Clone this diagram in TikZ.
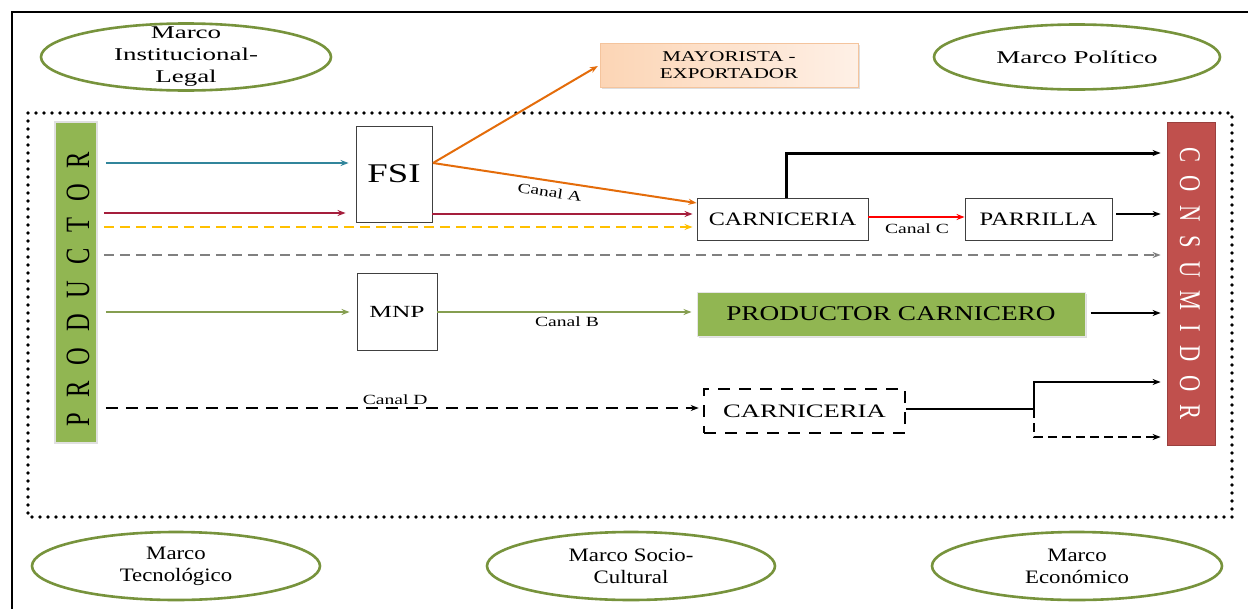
\documentclass[tikz,border=0pt]{standalone}
\usepackage{fontspec}
\setmainfont{Liberation Serif}
\usetikzlibrary{arrows.meta,shapes.geometric,shadows}
\definecolor{marcogreen}{RGB}{119,147,60}
\definecolor{prodgreen}{RGB}{145,182,82}
\definecolor{consred}{RGB}{192,80,77}
\definecolor{tealc}{RGB}{49,133,155}
\definecolor{crimson}{RGB}{165,30,60}
\definecolor{goldc}{RGB}{255,192,0}
\definecolor{orangec}{RGB}{228,108,10}
\definecolor{peachL}{RGB}{252,213,181}
\definecolor{peachR}{RGB}{254,240,230}
\newcommand\lspP{\hspace{22pt}}
\newcommand\lspC{\hspace{18pt}}
% size, leading and horizontal stretch of a label
\newcommand\fsz[3]{\fontsize{#1}{#2}\selectfont\addfontfeature{FakeStretch=#3}}
\tikzset{
  marco/.style={ellipse, draw=marcogreen, line width=2.6pt, inner sep=0pt},
  marcotext/.style={align=center, font=\fsz{18}{22}{1.5}},
  marcolow/.style={align=center, font=\fsz{19}{22}{1.2}},
  plainbox/.style={draw=black!75, line width=0.9pt, fill=white, inner sep=0pt},
  arr/.style={line width=1.6pt, -{Stealth[length=8pt,width=6pt]}},
  blk/.style={arr, black},
  canal/.style={font=\fsz{14}{16}{1.4}},
}
\begin{document}
\begin{tikzpicture}[x=1pt,y=-1pt]
\useasboundingbox (0,0) rectangle (1248,608);
\fill[white] (0,0) rectangle (1248,608);
% outer frame
\draw[line width=2.6pt] (12,610) -- (12,12) -- (1250,12);
% dotted boundary of the chain
\draw[line width=3.6pt, line cap=round, dash pattern=on 0pt off 8pt] (28,113) rectangle (1232,517);

% framework ellipses
\node[marco, minimum width=290pt, minimum height=67pt] (mil) at (186,57) {};
\node[marcotext] (milt) at (mil.center) {Marco\\Institucional-\\Legal};
\node[marco, minimum width=286pt, minimum height=65pt] (mpo) at (1077,57) {};
\node[marcotext] (mpot) at (mpo.center) {Marco Político};
\node[marco, minimum width=288pt, minimum height=68pt] (mte) at (176,566) {};
\node[marcolow] (mtet) at (mte.center) {Marco\\Tecnológico};
\node[marco, minimum width=288pt, minimum height=68pt] (msc) at (631,566) {};
\node[marcolow] (msct) at (msc.center) {Marco Socio-\\Cultural};
\node[marco, minimum width=290pt, minimum height=68pt] (mec) at (1077,566) {};
\node[marcolow] (mect) at (mec.center) {Marco\\Económico};

% end points of the chain
\node[fill=prodgreen, draw=black!12, line width=1.5pt, minimum width=42pt, minimum height=321pt, inner sep=0pt] (prod) at (76,282.5) {};
\node[rotate=90, font=\fontsize{34}{34}\selectfont] (prodt) at ([xshift=2pt,yshift=-7pt]prod.center)
  {\scalebox{0.72}[1]{P\lspP R\lspP O\lspP D\lspP U\lspP C\lspP T\lspP O\lspP R}};
\node[fill=consred, draw=consred!80!black, line width=0.8pt, minimum width=48pt, minimum height=323pt, inner sep=0pt] (cons) at (1191,283.5) {};
\node[rotate=-90, text=white, font=\fontsize{30}{30}\selectfont] (const) at ([xshift=-1pt]cons.center)
  {\scalebox{0.75}[1]{C\lspC O\lspC N\lspC S\lspC U\lspC M\lspC I\lspC D\lspC O\lspC R}};

% intermediaries
\node[draw=orangec!40, line width=0.8pt, left color=peachL, right color=peachR, minimum width=258pt, minimum height=44pt, inner sep=0pt, align=center, font=\fsz{15}{17}{1.4}, drop shadow={shadow xshift=2pt, shadow yshift=-2pt, fill=black!25}] (may) at (729,65) {MAYORISTA -\\EXPORTADOR};
\node[plainbox, minimum width=76pt, minimum height=96pt, font=\fsz{27}{27}{1.36}] (fsi) at (394,174) {FSI};
\node[plainbox, minimum width=80pt, minimum height=77pt, font=\fsz{17}{19}{1.5}] (mnp) at (397,311.5) {MNP};
\node[plainbox, minimum width=171pt, minimum height=42pt, font=\fsz{19}{21}{1.27}] (carn) at (782.5,219) {CARNICERIA};
\node[plainbox, minimum width=147pt, minimum height=42pt, font=\fsz{19}{21}{1.29}] (parr) at (1038.5,219) {PARRILLA};
\node[fill=prodgreen, draw=black!10, line width=1pt, minimum width=388pt, minimum height=44pt, inner sep=0pt, font=\fsz{21}{24}{1.3}, drop shadow={shadow xshift=2pt, shadow yshift=-2pt, fill=black!25}] (pcar) at (891,314) {PRODUCTOR CARNICERO};
\node[draw=black, line width=2.6pt, dash pattern=on 12pt off 9pt, fill=white, minimum width=201pt, minimum height=44pt, inner sep=0pt, font=\fsz{19}{21}{1.4}] (carnd) at (804.5,411) {CARNICERIA};

% routing points
\coordinate (split) at (1034,409);
\coordinate (fsiout) at (433,163);

% flows from the producer
\draw[arr, tealc, shorten <=8pt, shorten >=7pt] (prod.east |- 0,163) -- (fsi.west |- 0,163);
\draw[arr, crimson, shorten <=6pt, shorten >=10pt] (prod.east |- 0,213) -- (fsi.west |- 0,213);
\draw[arr, crimson, shorten >=4pt] (fsi.east |- 0,214) -- (carn.west |- 0,214);
\draw[arr, goldc, dash pattern=on 10pt off 6pt, shorten <=6pt, shorten >=4pt] (prod.east |- 0,227) -- (carn.west |- 0,227);
\draw[arr, black!50, dash pattern=on 10pt off 6pt, shorten <=6pt, shorten >=6pt] (prod.east |- 0,255) -- (cons.west |- 0,255);
\draw[arr, marcogreen!90!white, shorten <=8pt, shorten >=7pt] (prod.east |- 0,312) -- (mnp.west |- 0,312);
\draw[arr, marcogreen!90!white, shorten >=5pt] (mnp.east |- 0,312) -- (pcar.west |- 0,312)
  node[canal, black, pos=0.5, below=1pt] (cb) {Canal B};
\draw[arr, black, line width=2pt, dash pattern=on 12pt off 8pt, shorten <=8pt, shorten >=4pt] (prod.east |- 0,408) -- (carnd.west |- 0,408)
  node[canal, pos=0.5, above=-1pt, xshift=-5pt] (cd) {Canal D};

% Canal A from FSI
\draw[arr, orangec, line width=2pt, shorten >=2pt] (fsiout) -- (may.west);
\draw[arr, orangec, line width=2pt] (fsiout) -- (carn.west |- 0,203)
  node[canal, black, pos=0.45, below=2pt, sloped] (ca) {Canal A};

% to the consumer
\draw[blk, line width=3pt, shorten >=6pt] (carn.north -| 786,0) -- (786,153) -- (cons.west |- 0,153);
\draw[arr, red, line width=2.6pt] (carn.east |- 0,217) -- (parr.west |- 0,217);
\node[canal] (cc) at (917,229) {Canal C};
\draw[blk, line width=2pt, shorten <=4pt, shorten >=6pt] (parr.east |- 0,214) -- (cons.west |- 0,214);
\draw[blk, line width=2pt, shorten <=5pt, shorten >=6pt] (pcar.east |- 0,313) -- (cons.west |- 0,313);
\draw[line width=2.6pt] (carnd.east |- split) -- (split);
\draw[blk, line width=2.6pt, shorten >=6pt] (split) -- (1034,382) -- (cons.west |- 0,382);
\draw[blk, line width=2pt, dash pattern=on 9pt off 5pt, shorten >=6pt] (split) -- (1034,437) -- (cons.west |- 0,437);
\end{tikzpicture}
\end{document}
